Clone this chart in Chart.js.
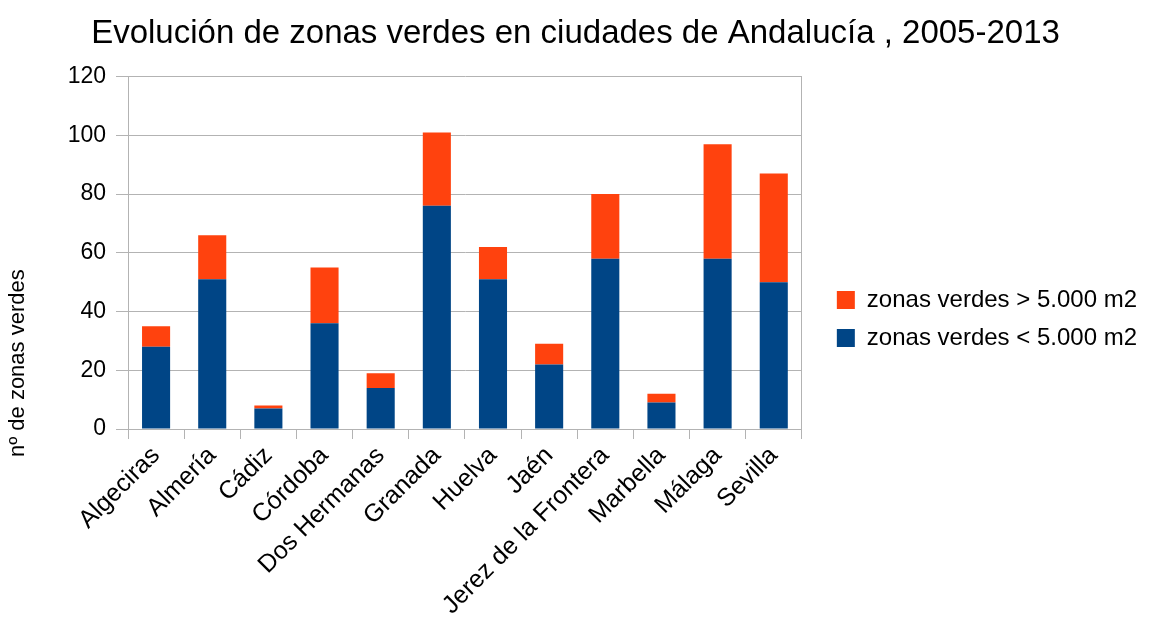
<!DOCTYPE html>
<html>
<head>
<meta charset="utf-8">
<script src="https://cdn.jsdelivr.net/npm/chart.js@4"></script>
<style>
  html, body { margin: 0; padding: 0; background: #fff; }
  #wrap { width: 1151px; height: 624px; }
</style>
</head>
<body>
<div id="wrap"><canvas id="myChart"></canvas></div>
<script>
const ciudades = ['Algeciras', 'Almería', 'Cádiz', 'Córdoba', 'Dos Hermanas', 'Granada', 'Huelva', 'Jaén', 'Jerez de la Frontera', 'Marbella', 'Málaga', 'Sevilla'];
const menores = [28, 51, 7, 36, 14, 76, 51, 22, 58, 9, 58, 50];
const mayores = [7, 15, 1, 19, 5, 25, 11, 7, 22, 3, 39, 37];
const tituloY = 'nº de zonas verdes';

Chart.defaults.font.family = '"Liberation Sans", Arial, sans-serif';
Chart.defaults.color = '#000';

// y axis title, sits low like in the original
const tituloEje = {
  id: 'tituloEje',
  afterDraw(chart) {
    const ctx = chart.ctx;
    ctx.save();
    ctx.translate(18, chart.height * 0.582);
    ctx.rotate(-Math.PI / 2);
    ctx.fillStyle = '#000';
    ctx.font = '22px "Liberation Sans", Arial, sans-serif';
    ctx.textAlign = 'center';
    ctx.textBaseline = 'middle';
    ctx.fillText(tituloY, 0, 0);
    ctx.restore();
  }
};

const myChart = new Chart(document.getElementById('myChart'), {
  type: 'bar',
  data: {
    labels: ciudades,
    datasets: [
      { label: 'zonas verdes < 5.000 m2', data: menores, backgroundColor: '#004586', borderWidth: 0,
        categoryPercentage: 1, barPercentage: 0.5 },
      { label: 'zonas verdes > 5.000 m2', data: mayores, backgroundColor: '#ff420e', borderWidth: 0,
        categoryPercentage: 1, barPercentage: 0.5 }
    ]
  },
  plugins: [tituloEje],
  options: {
    responsive: true,
    maintainAspectRatio: false,
    animation: false,
    layout: { padding: { left: 4, right: 4, top: 14, bottom: 0 } },
    plugins: {
      title: {
        display: true,
        text: 'Evolución de zonas verdes en ciudades de Andalucía , 2005-2013',
        font: { size: 33, weight: 'normal' },
        color: '#000',
        padding: { top: 0, bottom: 23 }
      },
      legend: {
        position: 'right',
        reverse: true,
        maxWidth: 400,
        labels: {
          boxWidth: 18,
          boxHeight: 18,
          padding: 14,
          font: { size: 24 },
          color: '#000'
        }
      },
      tooltip: { enabled: false }
    },
    scales: {
      x: {
        stacked: true,
        grid: { offset: true, drawOnChartArea: false, drawTicks: true, tickLength: 10, color: '#b3b3b3' },
        border: { color: '#b3b3b3' },
        ticks: { maxRotation: 45, minRotation: 45, font: { size: 25 }, color: '#000', padding: 2 },
        afterFit(scale) { scale.height = 195; }
      },
      y: {
        stacked: true,
        min: 0,
        max: 120,
        ticks: { stepSize: 20, font: { size: 23 }, color: '#000', padding: 10 },
        grid: { color: '#b3b3b3', tickLength: 12 },
        border: { color: '#b3b3b3' },
        afterFit(scale) { scale.width = 124; }
      },
      // empty right axis: only draws the right frame line and leaves the gap before the legend
      y2: {
        position: 'right',
        ticks: { display: false },
        grid: { drawOnChartArea: false, drawTicks: false },
        border: { color: '#b3b3b3' },
        afterFit(scale) { scale.width = 21; }
      }
    }
  }
});
</script>
</body>
</html>
